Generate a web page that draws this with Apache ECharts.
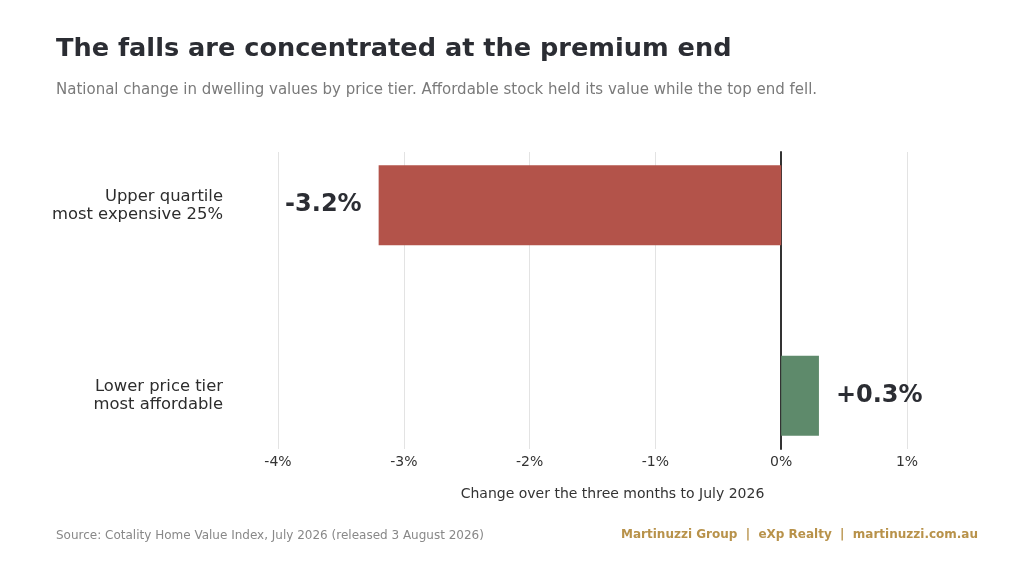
<!DOCTYPE html>
<html>
	<head>
		<meta charset="utf-8">
		<title></title>
		<script src="https://cdn.jsdelivr.net/npm/echarts@6/dist/echarts.min.js"></script>
		<style>
			html, body {
				margin: 0;
				padding: 0;
				background: #ffffff;
			}
			#main {
				width: 1024px;
				height: 573px;
			}
		</style>
	</head>
	<body>
		<div id="main"></div>
	</body>
	<script>
		// bottom to top, the way a category y axis reads
		var tiers = ["Lower price tier\nmost affordable", "Upper quartile\nmost expensive 25%"];
		var changes = [0.3, -3.2];
		var barColors = ["#5e8a6b", "#b3534a"];
		var xTicks = [-4, -3, -2, -1, 0, 1];

		var font = "DejaVu Sans";

		function signed(v) {
			return (v > 0 ? "+" : "") + v.toFixed(1) + "%";
		}

		var barData = changes.map(function (v, i) {
			return {
				value: v,
				itemStyle: { color: barColors[i] },
				label: { position: v < 0 ? "left" : "right" }
			};
		});

		var option = {
			backgroundColor: "#ffffff",
			animation: false,
			textStyle: { fontFamily: font },
			title: [{
				text: "The falls are concentrated at the premium end",
				left: 56,
				top: 36,
				padding: 0,
				textStyle: { fontFamily: font, fontSize: 25.6, fontWeight: "bold", color: "#2b2d33" }
			}, {
				text: "National change in dwelling values by price tier. Affordable stock held its value while the top end fell.",
				left: 56,
				top: 83,
				padding: 0,
				textStyle: { fontFamily: font, fontSize: 15, fontWeight: "normal", color: "#7a7a7a" }
			}, {
				text: "Source: Cotality Home Value Index, July 2026 (released 3 August 2026)",
				left: 56,
				top: 530,
				padding: 0,
				textStyle: { fontFamily: font, fontSize: 12, fontWeight: "normal", color: "#888888" }
			}, {
				text: "Martinuzzi Group  |  eXp Realty  |  martinuzzi.com.au",
				right: 46,
				top: 529,
				padding: 0,
				textStyle: { fontFamily: font, fontSize: 12, fontWeight: "bold", color: "#b8924a" }
			}],
			grid: [
				// frame: gridlines, tick labels, zero line
				{ left: 278, right: 117, top: 152, bottom: 124 },
				// bars
				{ left: 278, right: 117, top: 110, bottom: 82 }
			],
			xAxis: [{
				gridIndex: 0,
				type: "value",
				min: xTicks[0],
				max: xTicks[xTicks.length - 1],
				interval: 1,
				axisLine: { show: false },
				axisTick: { show: false },
				axisLabel: {
					formatter: function (v) { return v + "%"; },
					fontFamily: font,
					fontSize: 14,
					color: "#333333",
					margin: 6
				},
				splitLine: { lineStyle: { color: "#e3e3e3", width: 1 } },
				name: "Change over the three months to July 2026",
				nameLocation: "middle",
				nameGap: 38,
				nameTextStyle: { fontFamily: font, fontSize: 14, color: "#333333", padding: [0, 0, 0, 40] }
			}, {
				gridIndex: 1,
				type: "value",
				min: xTicks[0],
				max: xTicks[xTicks.length - 1],
				show: false
			}],
			yAxis: [{
				gridIndex: 0,
				type: "category",
				data: tiers,
				axisLine: { show: true, onZero: true, lineStyle: { color: "#333333", width: 2 } },
				axisTick: { show: false },
				axisLabel: { show: false }
			}, {
				gridIndex: 1,
				type: "category",
				data: tiers,
				axisLine: { show: false },
				axisTick: { show: false },
				axisLabel: {
					fontFamily: font,
					fontSize: 16.4,
					lineHeight: 18,
					color: "#2d2d2d",
					align: "right",
					margin: 55,
					padding: [14, 0, 0, 0]
				}
			}],
			series: [{
				type: "bar",
				xAxisIndex: 1,
				yAxisIndex: 1,
				barWidth: 80,
				data: barData,
				z: 1,
				label: {
					show: true,
					distance: 17,
					formatter: function (p) { return signed(p.value); },
					fontFamily: font,
					fontSize: 24,
					fontWeight: "bold",
					color: "#2b2d33",
					padding: [7, 0, 0, 0]
				}
			}]
		};

		var chart = echarts.init(document.getElementById("main"));
		chart.setOption(option);
	</script>
</html>
